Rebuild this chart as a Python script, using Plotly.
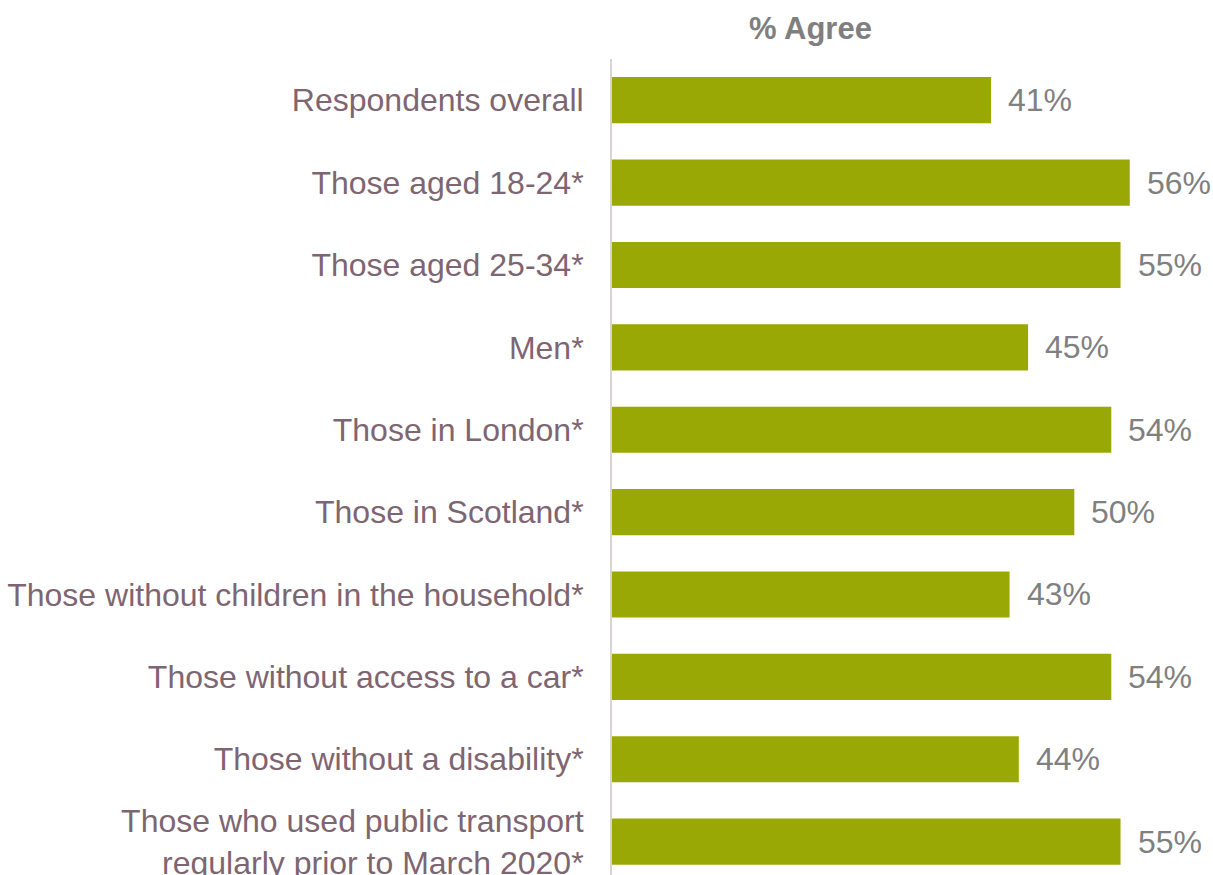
import plotly.graph_objects as go

categories = [
    "Respondents overall",
    "Those aged 18-24*",
    "Those aged 25-34*",
    "Men*",
    "Those in London*",
    "Those in Scotland*",
    "Those without children in the household*",
    "Those without access to a car*",
    "Those without a disability*",
    "Those who used public transport<br>regularly prior to March 2020*",
]
values = [41, 56, 55, 45, 54, 50, 43, 54, 44, 55]
value_labels = [f"{v}%" for v in values]

BAR = "#9AA805"
LABEL = "#7E6572"
GREY = "#808080"
FONT = "Liberation Sans, Arial, sans-serif"

fig = go.Figure(go.Bar(
    x=values, y=categories, orientation="h",
    marker=dict(color=BAR, line=dict(width=0)),
    width=0.56, hoverinfo="skip",
))

for c, v, t in zip(categories, values, value_labels):
    fig.add_annotation(x=v, y=c, text=t, xref="x", yref="y",
                       xanchor="left", yanchor="middle", xshift=15,
                       showarrow=False, font=dict(family=FONT, size=32, color=GREY))

fig.add_annotation(x=(810 - 612) / 601, y=1, xref="paper", yref="paper",
                   text="<b>% Agree</b>", showarrow=False,
                   xanchor="center", yanchor="middle", yshift=31,
                   font=dict(family=FONT, size=31, color="#7F7F7F"))

fig.update_layout(
    width=1213, height=875,
    margin=dict(l=612, r=0, t=59, b=0, pad=0, autoexpand=False),
    plot_bgcolor="white", paper_bgcolor="white",
    showlegend=False,
    xaxis=dict(range=[0, 65], visible=False, fixedrange=True, automargin=False),
    yaxis=dict(
        categoryorder="array", categoryarray=categories,
        range=[9.405, -0.5], autorange=False, automargin=False,
        showline=True, linecolor="#D9D3D6", linewidth=2,
        showgrid=False, zeroline=False, ticks="",
        ticklabelstandoff=20,
        tickfont=dict(family=FONT, size=32, color=LABEL),
    ),
)

fig.write_html(
    "out.html",
    config={"displayModeBar": False},
    post_script="document.body.style.margin='0';document.body.style.overflow='hidden';",
)
